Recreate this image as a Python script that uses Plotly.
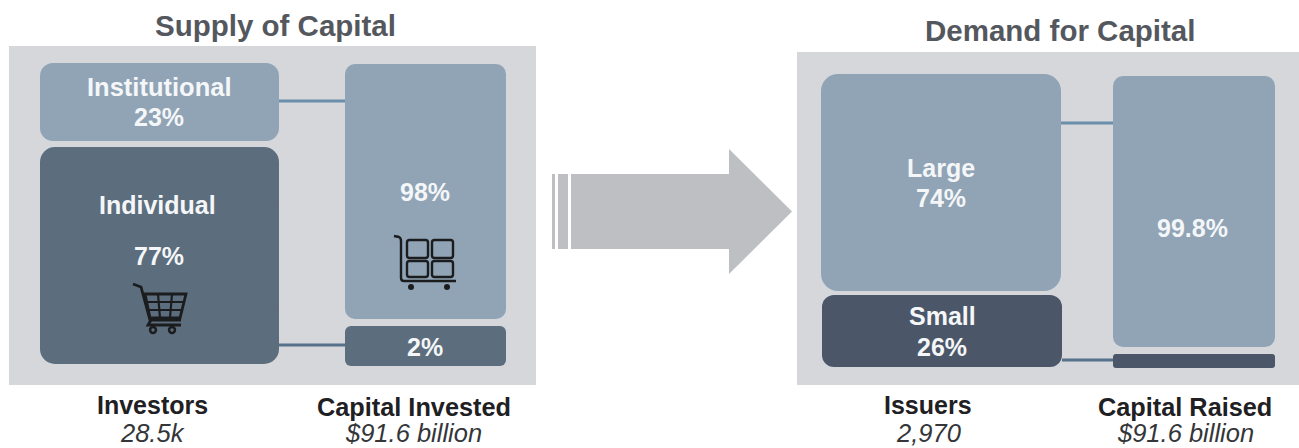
import plotly.graph_objects as go

# Shares of each capital-market segment, in percent
investor_types = ["Institutional", "Individual"]
investor_shares = [23, 77]
capital_invested_shares = [98, 2]
issuer_types = ["Large", "Small"]
issuer_shares = [74, 26]
capital_raised_shares = [99.8, 0.2]

# Column headings and totals
panel_titles = ["Supply of Capital", "Demand for Capital"]
column_names = ["Investors", "Capital Invested", "Issuers", "Capital Raised"]
column_totals = ["28.5k", "$91.6 billion", "2,970", "$91.6 billion"]

W, H = 1299, 448
LIGHT, MID, DARK = "#90a4b6", "#5c6d7d", "#4b5768"
PANEL = "#d5d7da"
ARROW = "#bdbfc2"
LINK = "#6b8eaa"
ICON = "#1b1c1e"
FONT = "Liberation Sans"

fig = go.Figure()

# Full-canvas pixel axes carry the panels, connectors, icons and text
fig.add_trace(go.Scatter(x=[0], y=[0], mode="lines", hoverinfo="skip", showlegend=False))
layout = dict(
    xaxis=dict(domain=[0, 1], range=[0, W], visible=False, fixedrange=True),
    yaxis=dict(domain=[0, 1], range=[H, 0], visible=False, fixedrange=True),
)

# The diagram is schematic: every block gets its own value axis, spanning the
# block's extent (left, right, top, bottom) on the canvas. A bar and its mirror
# image about zero round the block at both ends; a square bar centred on zero
# closes the join between them.
blocks = [
    (investor_shares[0], LIGHT, (40, 279, 63, 141), 13),
    (investor_shares[1], MID, (40, 279, 147, 364), 15),
    (capital_invested_shares[0], LIGHT, (345, 506, 64, 319), 10),
    (capital_invested_shares[1], MID, (345, 506, 326, 366), 6),
    (issuer_shares[0], LIGHT, (821, 1061, 74, 291), 17),
    (issuer_shares[1], DARK, (822, 1062, 295, 367), 12),
    (capital_raised_shares[0], LIGHT, (1113, 1275, 76, 347), 10),
    (capital_raised_shares[1], DARK, (1113, 1275, 354, 368), 3),
]
for i, (value, color, (x0, x1, y0, y1), radius) in enumerate(blocks, start=2):
    for signed in (value, -value):
        fig.add_trace(go.Bar(
            x=[0], y=[signed], width=[1], xaxis=f"x{i}", yaxis=f"y{i}",
            marker=dict(color=color, line=dict(width=0), cornerradius=radius),
            hoverinfo="skip", showlegend=False,
        ))
    fig.add_trace(go.Bar(
        x=[0], y=[value], base=[-value / 2], width=[1], xaxis=f"x{i}", yaxis=f"y{i}",
        marker=dict(color=color, line=dict(width=0)),
        hoverinfo="skip", showlegend=False,
    ))
    layout[f"xaxis{i}"] = dict(domain=[x0 / W, x1 / W], range=[-0.5, 0.5], visible=False,
                               anchor=f"y{i}", fixedrange=True)
    layout[f"yaxis{i}"] = dict(domain=[1 - y1 / H, 1 - y0 / H], range=[-value, value], visible=False,
                               anchor=f"x{i}", fixedrange=True)

shapes = []


def rect(x0, y0, x1, y1, fill, layer="below"):
    shapes.append(dict(type="rect", xref="x", yref="y", x0=x0, y0=y0, x1=x1, y1=y1,
                       fillcolor=fill, line=dict(width=0), layer=layer))


def stroke(path, width=2.0, color=ICON):
    shapes.append(dict(type="path", xref="x", yref="y", path=path,
                       line=dict(color=color, width=width), layer="above"))


def disc(cx, cy, r, fill):
    shapes.append(dict(type="circle", xref="x", yref="y", x0=cx - r, y0=cy - r, x1=cx + r, y1=cy + r,
                       fillcolor=fill, line=dict(width=0), layer="above"))


def rounded_outline(x0, y0, x1, y1, r=2.5):
    return (f"M{x0 + r},{y0} L{x1 - r},{y0} Q{x1},{y0} {x1},{y0 + r} L{x1},{y1 - r} Q{x1},{y1} {x1 - r},{y1} "
            f"L{x0 + r},{y1} Q{x0},{y1} {x0},{y1 - r} L{x0},{y0 + r} Q{x0},{y0} {x0 + r},{y0} Z")


# Panel backgrounds
rect(9, 46, 536, 385, PANEL)
rect(797, 52, 1299, 385, PANEL)

# Connectors between the paired columns
rect(279, 99.5, 345, 102.5, LINK)
rect(279, 343.5, 345, 346.5, "#57718a")
rect(1061, 121.5, 1113, 124.5, LINK)
rect(1062, 358.5, 1113, 361.5, "#57718a")

# Block arrow with its trailing stripes
rect(552, 174, 555, 249, ARROW)
rect(558, 174, 568, 249, ARROW)
shapes.append(dict(type="path", xref="x", yref="y", fillcolor=ARROW, line=dict(width=0), layer="below",
                   path="M571,174 L729,174 L729,149 L792,211.5 L729,274 L729,249 L571,249 Z"))

# Shopping cart icon
stroke("M133,284 L141,287 L150,320 L181,320", 2.8)
stroke("M145,294 L186,294 L180,318 L150,318 Z", 2.8)
stroke("M147,302 L184,302 M149,310 L182,310 M158,294 L160,318 M172,294 L170,318", 2.2)
stroke("M151,320 L148,325 L181,325", 2.8)
for cx in (153, 172):
    disc(cx, 330, 4.2, ICON)
    disc(cx, 330, 1.7, MID)

# Trolley with boxes icon
stroke("M394,236 L399,237 Q401,238 401,241 L401,278 Q401,281 404,281 L456,281", 2.4)
for box in ((407, 240, 428, 258), (432, 240, 453, 258), (407, 261, 428, 277), (432, 261, 453, 277)):
    stroke(rounded_outline(*box), 2.4)
disc(411, 287, 3, ICON)
disc(447, 287, 3, ICON)


annotations = []


def label(text, x, y, size, color, bold=False, italic=False):
    annotations.append(dict(
        text=text, x=x, y=y, xref="x", yref="y", xanchor="center", yanchor="middle",
        showarrow=False,
        font=dict(family=FONT, size=size, color=color,
                  weight="bold" if bold else "normal",
                  style="italic" if italic else "normal"),
    ))


WHITE = "#f4f6f8"
TITLE = "#54585e"
INK = "#1f2023"
ITALIC = "#34363a"

label(panel_titles[0], 275, 25, 29.5, TITLE, bold=True)
label(panel_titles[1], 1060, 30, 29.5, TITLE, bold=True)

label(investor_types[0], 159, 87, 25.5, WHITE, bold=True)
label(f"{investor_shares[0]}%", 159, 117, 25, WHITE, bold=True)
label(investor_types[1], 157, 205, 25, WHITE, bold=True)
label(f"{investor_shares[1]}%", 159, 256, 25, WHITE, bold=True)
label(f"{capital_invested_shares[0]}%", 425, 192, 25, WHITE, bold=True)
label(f"{capital_invested_shares[1]}%", 425, 347, 25, WHITE, bold=True)

label(issuer_types[0], 941, 168, 25, WHITE, bold=True)
label(f"{issuer_shares[0]}%", 941, 198, 25, WHITE, bold=True)
label(issuer_types[1], 942, 316, 25, WHITE, bold=True)
label(f"{issuer_shares[1]}%", 942, 347, 25, WHITE, bold=True)
label(f"{capital_raised_shares[0]}%", 1192, 228, 25, WHITE, bold=True)

for name, total, cx, y_name, y_total, name_size in zip(
        column_names, column_totals, (152, 413.5, 928, 1185), (405, 407, 405, 407), (433, 433, 433, 433),
        (25, 25.3, 25, 25.3)):
    label(name, cx, y_name, name_size, INK, bold=True)
    label(total, cx, y_total, 25.5, ITALIC, italic=True)

fig.update_layout(
    width=W, height=H, margin=dict(l=0, r=0, t=0, b=0),
    paper_bgcolor="white", plot_bgcolor="rgba(0,0,0,0)",
    showlegend=False, shapes=shapes, annotations=annotations, barmode="overlay",
    **layout,
)
fig.write_html("out.html", config=dict(displayModeBar=False))
